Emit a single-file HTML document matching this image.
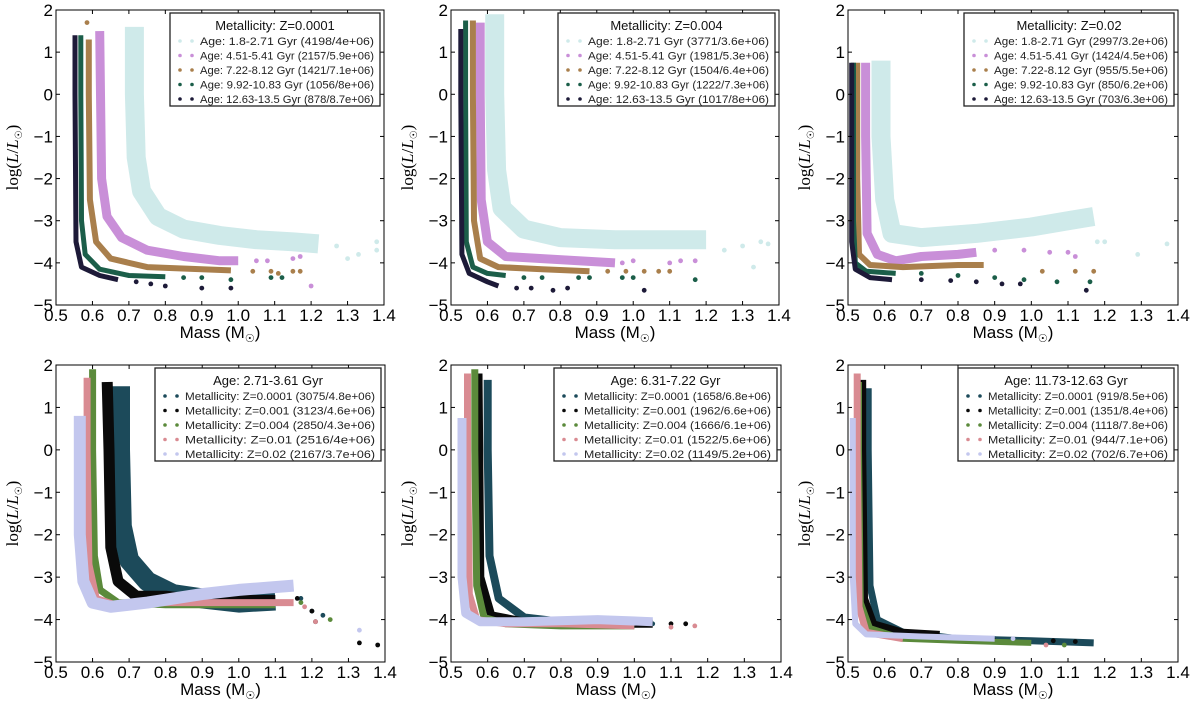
<!DOCTYPE html>
<html><head><meta charset="utf-8"><style>
html,body{margin:0;padding:0;background:#fff;}
svg{display:block;font-family:"Liberation Sans","DejaVu Sans",sans-serif;}
</style></head><body>
<svg id="fig" width="1200" height="704" viewBox="0 0 1200 704" xmlns="http://www.w3.org/2000/svg"></svg>
<script>
// ---- Data: centerline (mass, logL) of each band + sparse tail points ----
// Panel 1: Metallicity Z=0.0001
const p1a_m=[0.715,0.715,0.72,0.735,0.78,0.85,0.95,1.05,1.15,1.22], p1a_l=[1.6,0,-1.5,-2.3,-2.9,-3.2,-3.35,-3.45,-3.5,-3.55];
const p1a_tm=[1.27,1.3,1.33,1.38,1.38], p1a_tl=[-3.6,-3.9,-3.8,-3.5,-3.7];
const p1b_m=[0.62,0.622,0.625,0.64,0.68,0.75,0.85,0.95,1.0], p1b_l=[1.5,0,-2,-2.9,-3.4,-3.7,-3.85,-3.95,-3.95];
const p1b_tm=[1.05,1.08,1.15,1.17,1.2], p1b_tl=[-3.95,-3.95,-3.9,-3.85,-4.55];
const p1c_m=[0.59,0.59,0.593,0.61,0.65,0.75,0.9,0.98], p1c_l=[1.3,0,-2.5,-3.5,-3.9,-4.1,-4.15,-4.18];
const p1c_tm=[0.585,1.04,1.09,1.11,1.15,1.17], p1c_tl=[1.7,-4.2,-4.2,-4.25,-4.2,-4.2];
const p1d_m=[0.568,0.568,0.57,0.58,0.62,0.7,0.8], p1d_l=[1.4,0,-3,-3.8,-4.15,-4.3,-4.33];
const p1d_tm=[0.85,0.9,0.98,1.09,1.12], p1d_tl=[-4.35,-4.35,-4.4,-4.35,-4.35];
const p1e_m=[0.552,0.552,0.555,0.57,0.62,0.67], p1e_l=[1.4,0,-3.5,-4.1,-4.3,-4.4];
const p1e_tm=[0.72,0.76,0.8,0.9,0.98], p1e_tl=[-4.45,-4.5,-4.55,-4.6,-4.6];
// Panel 2: Z=0.004
const p2a_m=[0.62,0.62,0.625,0.64,0.7,0.8,0.95,1.1,1.2], p2a_l=[1.9,0,-1.8,-2.7,-3.2,-3.4,-3.45,-3.45,-3.45];
const p2a_tm=[1.25,1.3,1.35,1.37,1.33], p2a_tl=[-3.7,-3.6,-3.5,-3.55,-4.1];
const p2b_m=[0.58,0.58,0.583,0.6,0.65,0.75,0.85,0.95], p2b_l=[1.7,0,-2.5,-3.5,-3.85,-3.9,-3.95,-4.0];
const p2b_tm=[0.97,1.0,1.1,1.13,1.17], p2b_tl=[-4.0,-3.95,-4.0,-3.95,-3.95];
const p2c_m=[0.56,0.56,0.563,0.58,0.63,0.75,0.88], p2c_l=[1.75,0,-3,-3.9,-4.1,-4.15,-4.2];
const p2c_tm=[0.93,0.98,1.03,1.07,1.1], p2c_tl=[-4.2,-4.2,-4.2,-4.2,-4.2];
const p2d_m=[0.54,0.54,0.542,0.56,0.6,0.65], p2d_l=[1.75,0,-3.5,-4.1,-4.25,-4.3];
const p2d_tm=[0.7,0.75,0.85,0.88,0.97,1.0,1.17], p2d_tl=[-4.35,-4.35,-4.35,-4.35,-4.35,-4.35,-4.4];
const p2e_m=[0.527,0.527,0.53,0.55,0.6,0.63], p2e_l=[1.55,0,-3.8,-4.25,-4.45,-4.55];
const p2e_tm=[0.68,0.72,0.78,0.82,1.03], p2e_tl=[-4.6,-4.6,-4.65,-4.6,-4.65];
// Panel 3: Z=0.02
const p3a_m=[0.59,0.59,0.6,0.62,0.7,0.85,1.0,1.1,1.17], p3a_l=[0.8,-1,-2.5,-3.3,-3.4,-3.3,-3.15,-3.0,-2.9];
const p3a_tm=[1.18,1.2,1.29,1.37], p3a_tl=[-3.5,-3.5,-3.8,-3.55];
const p3b_m=[0.548,0.548,0.552,0.58,0.63,0.7,0.8,0.85], p3b_l=[0.75,-1,-3.3,-3.8,-3.95,-3.85,-3.8,-3.75];
const p3b_tm=[0.9,0.98,1.05,1.1,1.12], p3b_tl=[-3.7,-3.7,-3.75,-3.75,-3.85];
const p3c_m=[0.525,0.525,0.53,0.56,0.65,0.8,0.87], p3c_l=[0.75,-2,-3.8,-4.05,-4.1,-4.05,-4.05];
const p3c_tm=[1.03,1.12,1.17], p3c_tl=[-4.2,-4.2,-4.2];
const p3d_m=[0.515,0.515,0.52,0.55,0.63], p3d_l=[0.75,-3,-4,-4.2,-4.25];
const p3d_tm=[0.7,0.8,0.9,0.98,1.07,1.16], p3d_tl=[-4.25,-4.3,-4.35,-4.4,-4.45,-4.45];
const p3e_m=[0.51,0.51,0.52,0.56,0.62], p3e_l=[0.75,-3.5,-4.15,-4.35,-4.4];
const p3e_tm=[0.7,0.78,0.85,0.92,0.97,1.15], p3e_tl=[-4.4,-4.42,-4.45,-4.5,-4.5,-4.65];
// Panel 4: Age 2.71-3.61 Gyr
const p4a_m=[0.675,0.675,0.68,0.7,0.75,0.82,0.9,1.0,1.1], p4a_l=[1.5,0,-1.8,-2.6,-3.1,-3.4,-3.5,-3.6,-3.55];
const p4a_tm=[1.17,1.2,1.23], p4a_tl=[-3.5,-3.8,-3.9];
const p4b_m=[0.64,0.645,0.65,0.67,0.72,0.8,0.9,1.1], p4b_l=[1.6,0,-2.3,-3.1,-3.45,-3.45,-3.55,-3.55];
const p4b_tm=[1.16,1.2,1.21,1.33,1.38], p4b_tl=[-3.5,-3.8,-4.05,-4.55,-4.6];
const p4c_m=[0.6,0.6,0.605,0.62,0.67,0.8,0.95,1.1], p4c_l=[1.9,0,-2.5,-3.3,-3.6,-3.65,-3.65,-3.65];
const p4c_tm=[1.17,1.25], p4c_tl=[-3.6,-4.0];
const p4d_m=[0.585,0.585,0.59,0.61,0.66,0.8,1.0,1.15], p4d_l=[1.7,0,-2.7,-3.5,-3.65,-3.6,-3.6,-3.6];
const p4d_tm=[1.18,1.21], p4d_tl=[-3.7,-4.05];
const p4e_m=[0.565,0.565,0.575,0.6,0.65,0.75,0.9,1.0,1.15], p4e_l=[0.8,-2,-3.1,-3.6,-3.7,-3.6,-3.4,-3.3,-3.2];
const p4e_tm=[1.33], p4e_tl=[-4.25];
// Panel 5: Age 6.31-7.22 Gyr
const p5a_m=[0.6,0.6,0.605,0.63,0.7,0.8,1.0], p5a_l=[1.65,0,-2.5,-3.5,-3.95,-4.05,-4.1];
const p5a_tm=[1.05], p5a_tl=[-4.1];
const p5b_m=[0.575,0.577,0.58,0.61,0.7,0.9,1.05], p5b_l=[1.8,0,-3,-3.9,-4.05,-4.1,-4.1];
const p5b_tm=[1.1,1.14], p5b_tl=[-4.1,-4.1];
const p5c_m=[0.565,0.565,0.57,0.59,0.65,0.8,1.0], p5c_l=[1.9,0,-3.2,-3.95,-4.1,-4.15,-4.15];
const p5c_tm=[0.9], p5c_tl=[-4.15];
const p5d_m=[0.545,0.545,0.55,0.57,0.65,0.8,1.0], p5d_l=[1.8,0,-3.4,-4.0,-4.1,-4.1,-4.15];
const p5d_tm=[1.1,1.165], p5d_tl=[-4.18,-4.15];
const p5e_m=[0.53,0.53,0.54,0.58,0.7,0.9,1.05], p5e_l=[0.75,-3,-3.85,-4.05,-4.05,-4.0,-4.05];
const p5e_tm=[0.75], p5e_tl=[-4.0];
// Panel 6: Age 11.73-12.63 Gyr
const p6a_m=[0.555,0.555,0.56,0.58,0.65,0.8,1.0,1.17], p6a_l=[1.45,0,-3.2,-4.0,-4.3,-4.45,-4.5,-4.55];
const p6a_tm=[0.9], p6a_tl=[-4.45];
const p6b_m=[0.54,0.54,0.545,0.57,0.65,0.75], p6b_l=[1.65,0,-3.5,-4.1,-4.3,-4.35];
const p6b_tm=[0.9,1.06,1.12], p6b_tl=[-4.5,-4.5,-4.52];
const p6c_m=[0.53,0.53,0.535,0.56,0.65,0.8,1.0], p6c_l=[1.6,0,-3.6,-4.2,-4.45,-4.5,-4.55];
const p6c_tm=[1.09], p6c_tl=[-4.6];
const p6d_m=[0.525,0.525,0.53,0.55,0.65], p6d_l=[1.8,0,-3.7,-4.3,-4.45];
const p6d_tm=[1.04], p6d_tl=[-4.6];
const p6e_m=[0.513,0.513,0.52,0.55,0.7,0.9], p6e_l=[0.75,-3,-4.1,-4.35,-4.4,-4.45];
const p6e_tm=[0.95], p6e_tl=[-4.45];

const xTicks=[0.5,0.6,0.7,0.8,0.9,1.0,1.1,1.2,1.3,1.4];
const yTicks=[2,1,0,-1,-2,-3,-4,-5];
const ageLabels=["Age: 1.8-2.71 Gyr","Age: 4.51-5.41 Gyr","Age: 7.22-8.12 Gyr","Age: 9.92-10.83 Gyr","Age: 12.63-13.5 Gyr"];
const zLabels=["Metallicity: Z=0.0001","Metallicity: Z=0.001","Metallicity: Z=0.004","Metallicity: Z=0.01","Metallicity: Z=0.02"];
const p1Counts=["(4198/4e+06)","(2157/5.9e+06)","(1421/7.1e+06)","(1056/8e+06)","(878/8.7e+06)"];
const p2Counts=["(3771/3.6e+06)","(1981/5.3e+06)","(1504/6.4e+06)","(1222/7.3e+06)","(1017/8e+06)"];
const p3Counts=["(2997/3.2e+06)","(1424/4.5e+06)","(955/5.5e+06)","(850/6.2e+06)","(703/6.3e+06)"];
const p4Counts=["(3075/4.8e+06)","(3123/4.6e+06)","(2850/4.3e+06)","(2516/4e+06)","(2167/3.7e+06)"];
const p5Counts=["(1658/6.8e+06)","(1962/6.6e+06)","(1666/6.1e+06)","(1522/5.6e+06)","(1149/5.2e+06)"];
const p6Counts=["(919/8.5e+06)","(1351/8.4e+06)","(1118/7.8e+06)","(944/7.1e+06)","(702/6.7e+06)"];

const ageColors=["#cfeaea","#c98fd8","#a97f4c","#1b5e49","#1d1a38"];
const zColors=["#1c4a5a","#0a0a0a","#5b8a3b","#d98b92","#c3c7ee"];
const ageWidths=[19,9,6,5,5];

const NS="http://www.w3.org/2000/svg";
const svg=document.getElementById('fig');
function el(tag,attrs,parent){const e=document.createElementNS(NS,tag);for(const k in attrs)e.setAttribute(k,attrs[k]);(parent||svg).appendChild(e);return e;}

function panel(idx,L,T,R,B,series,title,labels,counts,colors,widths,legW){
  const g=el('g',{});
  
  
  const xs=m=>L+(m-0.5)/0.9*(R-L);
  const ys=v=>T+(2-v)/7*(B-T);
  [0,1,2,3,4].forEach(i=>{
    const s=series[i];
    const pts=s[0].map((m,j)=>xs(m).toFixed(1)+','+ys(s[1][j]).toFixed(1)).join(' ');
    const pl=el('polyline',{points:pts,fill:'none',stroke:colors[i],'stroke-width':widths[i],'stroke-linecap':'butt','stroke-linejoin':'round'},g);
    
    
    s[2].forEach((m,j)=>{
      const c=el('circle',{cx:xs(m).toFixed(1),cy:ys(s[3][j]).toFixed(1),r:2.4,fill:colors[i]},g);
      
      
    });
  });
  const fr=el('rect',{x:L,y:T,width:R-L,height:B-T,fill:'none',stroke:'#000','stroke-width':1},g);
  
  
  xTicks.forEach(t=>{
    const x=xs(t);
    el('line',{x1:x,y1:B,x2:x,y2:B-4,stroke:'#000'},g);
    el('line',{x1:x,y1:T,x2:x,y2:T+4,stroke:'#000'},g);
    const tx=el('text',{x:x,y:B+16,'text-anchor':'middle','font-size':17,fill:'#000'},g);
    tx.textContent=t.toFixed(1);
    
    
  });
  yTicks.forEach(t=>{
    const y=ys(t);
    el('line',{x1:L,y1:y,x2:L+4,y2:y,stroke:'#000'},g);
    el('line',{x1:R,y1:y,x2:R-4,y2:y,stroke:'#000'},g);
    const tx=el('text',{x:L-3,y:y+6,'text-anchor':'end','font-size':17,fill:'#000'},g);
    tx.textContent=(t<0?'\u2212'+(-t):String(t));
    
    
  });
  const xt=el('text',{x:(L+R)/2,y:B+33,'text-anchor':'middle','font-size':17,fill:'#000'},g);
  xt.innerHTML='Mass (M<tspan font-family="Liberation Serif, serif" font-size="11" dy="4">\u2609</tspan><tspan dy="-4">)</tspan>';
  
  
  const cy=(T+B)/2;
  const yt=el('text',{x:0,y:0,'text-anchor':'middle','font-size':17,'font-family':'Liberation Serif, serif',fill:'#000',transform:'translate('+(L-38)+','+cy+') rotate(-90)'},g);
  yt.innerHTML='log(<tspan font-style="italic">L</tspan>/<tspan font-style="italic">L</tspan><tspan font-size="10" dy="4">\u2609</tspan><tspan dy="-4">)</tspan>';
  
  
  const lx=R-4-legW, ly=T+3;
  const lg=el('g',{},g);
  
  
  el('rect',{x:lx,y:ly,width:legW,height:93,fill:'#fff',stroke:'#222','stroke-width':1.3},lg);
  const tt=el('text',{x:lx+legW/2,y:ly+17,'text-anchor':'middle','font-size':13,fill:'#111'},lg);
  tt.textContent=title;
  
  
  labels.forEach((lab,i)=>{
    const yy=ly+32+i*14.5;
    const e=el('g',{},lg);
    
    
    el('circle',{cx:lx+10,cy:yy-4,r:1.8,fill:colors[i]},e);
    el('circle',{cx:lx+22,cy:yy-4,r:1.8,fill:colors[i]},e);
    const t=el('text',{x:lx+30,y:yy,'font-size':11,fill:'#222',textLength:legW-36,lengthAdjust:'spacingAndGlyphs'},e);
    t.textContent=lab+' '+counts[i];
  });
}

panel(1,56,10,384,305,[[p1a_m,p1a_l,p1a_tm,p1a_tl],[p1b_m,p1b_l,p1b_tm,p1b_tl],[p1c_m,p1c_l,p1c_tm,p1c_tl],[p1d_m,p1d_l,p1d_tm,p1d_tl],[p1e_m,p1e_l,p1e_tm,p1e_tl]],"Metallicity: Z=0.0001",ageLabels,p1Counts,ageColors,ageWidths,210);
panel(2,451,10,779,305,[[p2a_m,p2a_l,p2a_tm,p2a_tl],[p2b_m,p2b_l,p2b_tm,p2b_tl],[p2c_m,p2c_l,p2c_tm,p2c_tl],[p2d_m,p2d_l,p2d_tm,p2d_tl],[p2e_m,p2e_l,p2e_tm,p2e_tl]],"Metallicity: Z=0.004",ageLabels,p2Counts,ageColors,ageWidths,217);
panel(3,848,10,1178,305,[[p3a_m,p3a_l,p3a_tm,p3a_tl],[p3b_m,p3b_l,p3b_tm,p3b_tl],[p3c_m,p3c_l,p3c_tm,p3c_tl],[p3d_m,p3d_l,p3d_tm,p3d_tl],[p3e_m,p3e_l,p3e_tm,p3e_tl]],"Metallicity: Z=0.02",ageLabels,p3Counts,ageColors,ageWidths,210);
panel(4,56,365,385,662,[[p4a_m,p4a_l,p4a_tm,p4a_tl],[p4b_m,p4b_l,p4b_tm,p4b_tl],[p4c_m,p4c_l,p4c_tm,p4c_tl],[p4d_m,p4d_l,p4d_tm,p4d_tl],[p4e_m,p4e_l,p4e_tm,p4e_tl]],"Age: 2.71-3.61 Gyr",zLabels,p4Counts,zColors,[20,11,7,7,12],226);
panel(5,451,365,781,662,[[p5a_m,p5a_l,p5a_tm,p5a_tl],[p5b_m,p5b_l,p5b_tm,p5b_tl],[p5c_m,p5c_l,p5c_tm,p5c_tl],[p5d_m,p5d_l,p5d_tm,p5d_tl],[p5e_m,p5e_l,p5e_tm,p5e_tl]],"Age: 6.31-7.22 Gyr",zLabels,p5Counts,zColors,[8,8,7,7,9],223);
panel(6,848,365,1178,662,[[p6a_m,p6a_l,p6a_tm,p6a_tl],[p6b_m,p6b_l,p6b_tm,p6b_tl],[p6c_m,p6c_l,p6c_tm,p6c_tl],[p6d_m,p6d_l,p6d_tm,p6d_tl],[p6e_m,p6e_l,p6e_tm,p6e_tl]],"Age: 11.73-12.63 Gyr",zLabels,p6Counts,zColors,[7,7,6,7,6],216);
</script>
</body></html>
